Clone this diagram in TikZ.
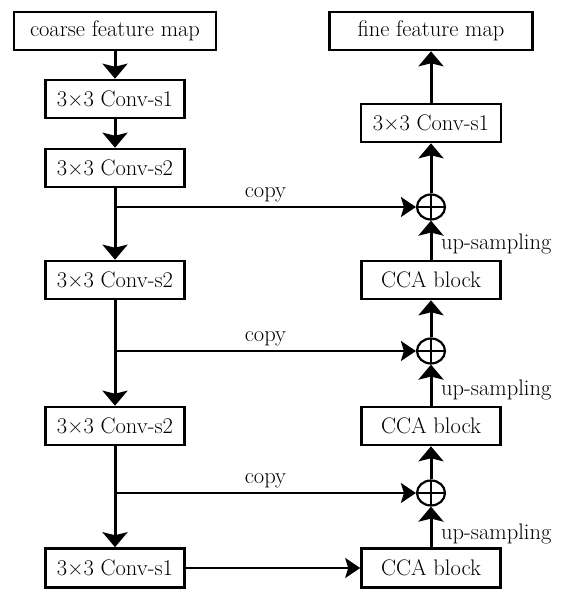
\documentclass[tikz,border=0pt]{standalone}
\usetikzlibrary{arrows.meta,shapes.geometric}
\begin{document}
\begin{tikzpicture}[x=1pt,y=-1pt,
  box/.style={draw,line width=2.6pt,minimum height=38pt,inner sep=0pt,font=\fontsize{22.5}{26}\selectfont},
  lbl/.style={font=\fontsize{22.5}{26}\selectfont,inner sep=0pt},
  mainarrow/.style={line width=3pt,-{Stealth[length=15pt,width=25pt,inset=3pt]}},
  copyarrow/.style={line width=2pt,-{Stealth[length=15pt,width=20pt,inset=3pt]}},
  plusnode/.style={draw,ellipse,line width=2.2pt,minimum width=28pt,minimum height=25pt,inner sep=0pt,
    path picture={\draw[line width=2.2pt] (path picture bounding box.north) -- (path picture bounding box.south)
      (path picture bounding box.west) -- (path picture bounding box.east);}}]
\useasboundingbox (0,0) rectangle (566,589);
% left column
\node[box,minimum width=202pt] (cfm) at (115,31) {coarse feature map};
\node[box,minimum width=139pt] (l1) at (115,99) {3\texttimes3 Conv-s1};
\node[box,minimum width=139pt] (l2) at (115,168) {3\texttimes3 Conv-s2};
\node[box,minimum width=139pt] (l3) at (115,280) {3\texttimes3 Conv-s2};
\node[box,minimum width=139pt] (l4) at (115,426) {3\texttimes3 Conv-s2};
\node[box,minimum width=139pt,minimum height=39pt] (l5) at (115,568) {3\texttimes3 Conv-s1};
% right column
\node[box,minimum width=203pt] (ffm) at (431,31) {fine feature map};
\node[box,minimum width=140pt] (r1) at (431,123) {3\texttimes3 Conv-s1};
\node[box,minimum width=139pt] (cca1) at (431,280) {CCA block};
\node[box,minimum width=139pt] (cca2) at (431,426) {CCA block};
\node[box,minimum width=139pt,minimum height=39pt] (cca3) at (431,568) {CCA block};
\node[plusnode] (p1) at (431,207) {};
\node[plusnode] (p2) at (431,351) {};
\node[plusnode] (p3) at (431,493) {};
% coordinates for copy branches
\coordinate (j1) at (l2.south |- p1);
\coordinate (j2) at (l3.south |- p2);
\coordinate (j3) at (l4.south |- p3);
% left chain
\draw[mainarrow] (cfm) -- (l1);
\draw[mainarrow] (l1) -- (l2);
\draw[mainarrow] (l2) -- (l3);
\draw[mainarrow] (l3) -- (l4);
\draw[mainarrow] (l4) -- (l5);
% copies
\draw[copyarrow] (j1) -- (p1) node[lbl,pos=0.5,above=4pt] {copy};
\draw[copyarrow] (j2) -- (p2) node[lbl,pos=0.5,above=4pt] {copy};
\draw[copyarrow] (j3) -- (p3) node[lbl,pos=0.5,above=4pt] {copy};
\draw[copyarrow] (l5) -- (cca3);
% right chain
\draw[mainarrow] (cca3) -- (p3);
\draw[mainarrow] (p3) -- (cca2);
\draw[mainarrow] (cca2) -- (p2);
\draw[mainarrow] (p2) -- (cca1);
\draw[mainarrow] (cca1) -- (p1);
\draw[mainarrow] (p1) -- (r1);
\draw[mainarrow] (r1) -- (ffm);
% up-sampling labels
\node[lbl,anchor=west] (u1) at ([xshift=10pt,yshift=16pt]cca1.north) {up-sampling};
\node[lbl,anchor=west] (u2) at ([xshift=10pt,yshift=16pt]cca2.north) {up-sampling};
\node[lbl,anchor=west] (u3) at ([xshift=10pt,yshift=13pt]cca3.north) {up-sampling};
\end{tikzpicture}
\end{document}
